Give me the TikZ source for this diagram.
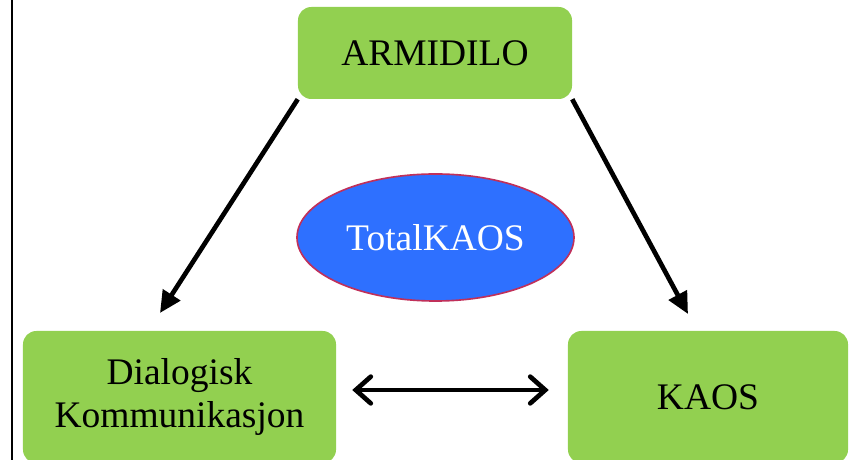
\documentclass[tikz,border=0pt]{standalone}
\usepackage{fontspec}
\setmainfont{Liberation Serif}
\usetikzlibrary{shapes.geometric,arrows.meta}

\definecolor{boxgreen}{HTML}{92D050}
\definecolor{ovalblue}{HTML}{2E70FF}
\definecolor{ovalrim}{HTML}{C0305A}

\tikzset{
  greenbox/.style={fill=boxgreen, rounded corners=0.4cm, inner sep=0pt, align=center,
    font=\fontsize{32}{37}\selectfont},
  oval/.style={ellipse, fill=ovalblue, draw=ovalrim, line width=1.4pt, inner sep=0pt,
    minimum width=8.31cm, minimum height=3.81cm, text=white, font=\fontsize{32}{37}\selectfont},
  flow/.style={line width=4pt, -{Triangle[length=0.65cm, width=0.6cm]}},
  both/.style={line width=4pt, line cap=round,
    {Straight Barb[length=0.45cm, width=0.8cm, line cap=round]}-{Straight Barb[length=0.45cm, width=0.8cm, line cap=round]}}
}

\begin{document}
\begin{tikzpicture}[x=0.03cm, y=-0.03cm]
\useasboundingbox (0,0) rectangle (854,460);
\coordinate (top) at (12,0);
\coordinate (bot) at (12,460);
\draw [line width=2.5pt] (top) -- (bot);

\node (armidilo) at (435,53) [greenbox, minimum width=8.22cm, minimum height=2.76cm] {ARMIDILO};
\node (dialog) at (179.5,397) [greenbox, minimum width=9.39cm, minimum height=3.96cm] {Dialogisk\\Kommunikasjon};
\node (kaos) at (708,397) [greenbox, minimum width=8.4cm, minimum height=3.96cm] {KAOS};
\node (total) at (435.5,237.5) [oval] {TotalKAOS};

\coordinate (tipl) at (160,313);
\coordinate (tipr) at (688,314);
\draw [flow] (armidilo.south west) -- (tipl);
\draw [flow] (armidilo.south east) -- (tipr);
\draw [both] ([shift={(16,-7)}]dialog.east) -- ([shift={(-19,-7)}]kaos.west);
\end{tikzpicture}
\end{document}
